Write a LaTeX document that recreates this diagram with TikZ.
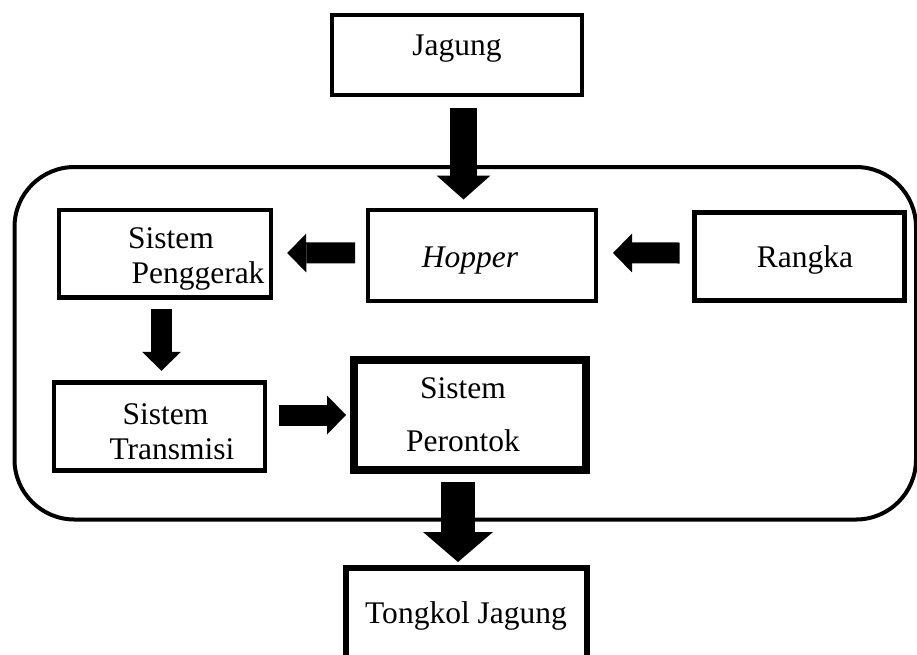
\documentclass[tikz,border=0pt]{standalone}
\usepackage{fontspec}
\setmainfont{Liberation Serif}
\usetikzlibrary{arrows.meta}
\tikzstyle{box}=[draw, line width=4.5pt, inner sep=0pt, align=center, font=\fontsize{31.5pt}{35pt}\selectfont]
\tikzstyle{flow}=[line width=21pt, -{Triangle[width=39pt,length=19pt,line width=0pt]}]
\tikzstyle{bigflow}=[line width=27pt, -{Triangle[width=54pt,length=24pt,line width=0pt]}]
\tikzstyle{hugeflow}=[line width=34pt, -{Triangle[width=70pt,length=30pt,line width=0pt]}]

\begin{document}
\begin{tikzpicture}[x=1pt,y=-1pt]
\useasboundingbox (0,0) rectangle (917,654);

\node (mesin) [draw, line width=4pt, rounded corners=60pt, minimum width=901.5pt, minimum height=352.5pt] at (465.25,343.25) {};

\node (jagung) [box, line width=4pt, minimum width=250pt, minimum height=80pt, text height=40.3pt, text depth=39.7pt] at (457,54.7) {Jagung};
\node (hopper) [box, line width=4pt, minimum width=228pt, minimum height=90.5pt, text height=57pt, text depth=33.5pt] at (482,255.25) {\textit{Hopper}\hspace*{24pt}};
\node (rangka) [box, line width=5pt, minimum width=210pt, minimum height=88pt, text height=54.5pt, text depth=33.5pt] at (799,256.5) {\hspace*{12pt}Rangka};
\node (penggerak) [box, minimum width=212pt, minimum height=87.5pt] at (165,253.7) {\rule{0pt}{30.5pt}\hspace*{12pt}Sistem\\ \hspace*{66pt}Penggerak};
\node (transmisi) [box, minimum width=211pt, minimum height=88pt] at (159.5,426.5) {\rule{0pt}{32pt}\hspace*{12pt}Sistem\\ \hspace*{25pt}Transmisi};
\node (perontok) [box, line width=8pt, minimum width=232pt, minimum height=110pt] at (470,414.6) {Sistem\hspace*{14pt}\\[18pt] Perontok\hspace*{14pt}};
\node (tongkol) [box, line width=6pt, minimum width=241pt, minimum height=111.7pt, text height=54.7pt, text depth=57pt] at (466,624.15) {Tongkol Jagung};

\draw [bigflow, shorten <=11pt, shorten >=8.5pt] ([xshift=6.5pt]jagung.south) -- ([xshift=-18.5pt]hopper.north);
\draw [flow, shorten <=11pt, shorten >=14pt] ([yshift=2.3pt]hopper.west) -- ([yshift=0.7pt]penggerak.east);
\draw [flow, shorten <=12pt, shorten >=15pt] ([yshift=3.5pt]rangka.west) -- ([yshift=2.3pt]hopper.east);
\draw [flow, shorten <=9.5pt, shorten >=9.5pt] ([xshift=-3.5pt]penggerak.south) -- ([xshift=2pt]transmisi.north);
\draw [flow, shorten <=11.3pt, shorten >=4pt] ([yshift=11.5pt]transmisi.east) -- ([yshift=-0.4pt]perontok.west);
\draw [hugeflow, shorten <=8.4pt, shorten >=3.3pt] ([xshift=-12pt]perontok.south) -- ([xshift=-8pt]tongkol.north);

\end{tikzpicture}
\end{document}
